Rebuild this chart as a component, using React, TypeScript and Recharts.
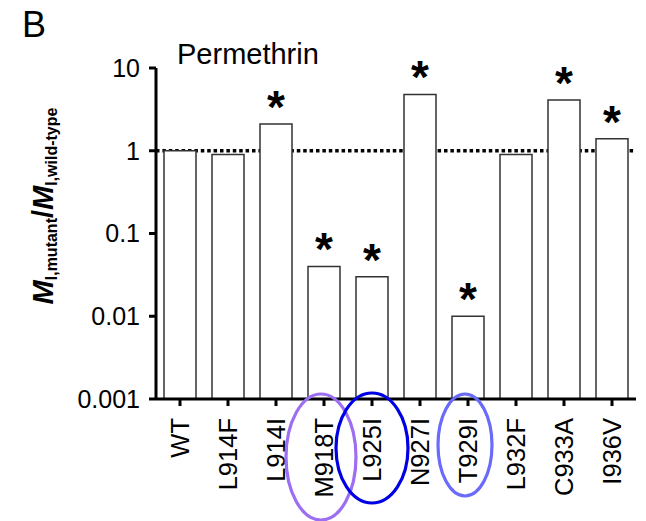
import { Bar, BarChart, LabelList, ReferenceLine, XAxis, YAxis } from "recharts";

const mutants = ["WT", "L914F", "L914I", "M918T", "L925I", "N927I", "T929I", "L932F", "C933A", "I936V"];
const ratio = [1, 0.9, 2.1, 0.04, 0.03, 4.8, 0.01, 0.9, 4.1, 1.4];
const significant = [false, false, true, true, true, true, true, false, true, true];
const yTicks = [0.001, 0.01, 0.1, 1, 10];
const circledColors: Record<string, string> = {
  M918T: "#9c6ef2",
  L925I: "#0000e4",
  T929I: "#6a6afb"
};

// ellipse placement relative to the tick (dx, dy below axis, rx, ry)
const circleShape: Record<string, [number, number, number, number]> = {
  M918T: [-3, 58, 35, 63],
  L925I: [0, 49, 36, 55],
  T929I: [-3, 46, 27, 51]
};

const FONT = "'Liberation Sans', Arial, sans-serif";
const AXIS_Y = 399;

const data = mutants.map((name, i) => ({
  name,
  ratio: ratio[i],
  sig: significant[i] ? "*" : ""
}));

const MutantTick = (props: any) => {
  const { x, payload } = props;
  const name = payload.value as string;
  const color = circledColors[name];
  const shape = circleShape[name];
  return (
    <g>
      {color && shape ? (
        <ellipse
          cx={x + shape[0]}
          cy={AXIS_Y + shape[1]}
          rx={shape[2]}
          ry={shape[3]}
          fill="none"
          stroke={color}
          strokeWidth={3.2}
        />
      ) : null}
      <text
        transform={`translate(${x},${AXIS_Y + 19}) rotate(-90)`}
        textAnchor="end"
        dy="0.36em"
        fontSize={25.5}
        fontFamily={FONT}
        fill="#000"
      >
        {name}
      </text>
    </g>
  );
};

const renderStar = (props: any) => {
  const { x, y, width, value } = props;
  if (!value) return null;
  return (
    <text
      x={Number(x) + Number(width) / 2}
      y={Number(y) - 1}
      textAnchor="middle"
      fontSize={46}
      fontWeight="bold"
      fontFamily={FONT}
      fill="#000"
    >
      {value}
    </text>
  );
};

export default function App() {
  return (
    <div style={{ position: "absolute", left: 0, top: 0, width: 646, height: 521, background: "#fff" }}>
      <BarChart
        width={646}
        height={521}
        data={data}
        margin={{ top: 68, right: 10, bottom: 0, left: 0 }}
      >
        <XAxis
          dataKey="name"
          interval={0}
          height={122}
          tickSize={7}
          axisLine={{ stroke: "#000", strokeWidth: 3 }}
          tickLine={{ stroke: "#000", strokeWidth: 3 }}
          tick={<MutantTick />}
        />
        <YAxis
          scale="log"
          domain={[0.001, 10]}
          ticks={yTicks}
          allowDataOverflow
          width={156}
          tickSize={7}
          tickMargin={9}
          tickFormatter={(v) => String(v)}
          axisLine={{ stroke: "#000", strokeWidth: 3 }}
          tickLine={{ stroke: "#000", strokeWidth: 3 }}
          tick={{ fill: "#000", fontSize: 25, fontFamily: FONT }}
        />
        <ReferenceLine
          y={1}
          stroke="#000"
          strokeWidth={3.5}
          strokeDasharray="3.5 2.9"
          zIndex={100}
        />
        <Bar
          dataKey="ratio"
          barSize={32}
          fill="#fff"
          stroke="#333"
          strokeWidth={1.5}
          isAnimationActive={false}
        >
          <LabelList dataKey="sig" content={renderStar} />
        </Bar>
      </BarChart>
      <svg
        width={646}
        height={521}
        style={{ position: "absolute", left: 0, top: 0, pointerEvents: "none" }}
      >
        <text x={22} y={37} fontSize={36} fontFamily={FONT} fill="#000">
          B
        </text>
        <text x={177} y={64} fontSize={29} fontFamily={FONT} fill="#000">
          Permethrin
        </text>
        <text
          transform="translate(53,206) rotate(-90)"
          textAnchor="middle"
          fontFamily={FONT}
          fontWeight="bold"
          fill="#000"
        >
          <tspan fontSize={29} fontStyle="italic">M</tspan>
          <tspan fontSize={16} dy={4}>I,mutant</tspan>
          <tspan fontSize={29} dy={-4}>/</tspan>
          <tspan fontSize={29} fontStyle="italic">M</tspan>
          <tspan fontSize={16} dy={4}>I,wild-type</tspan>
        </text>
      </svg>
    </div>
  );
}
